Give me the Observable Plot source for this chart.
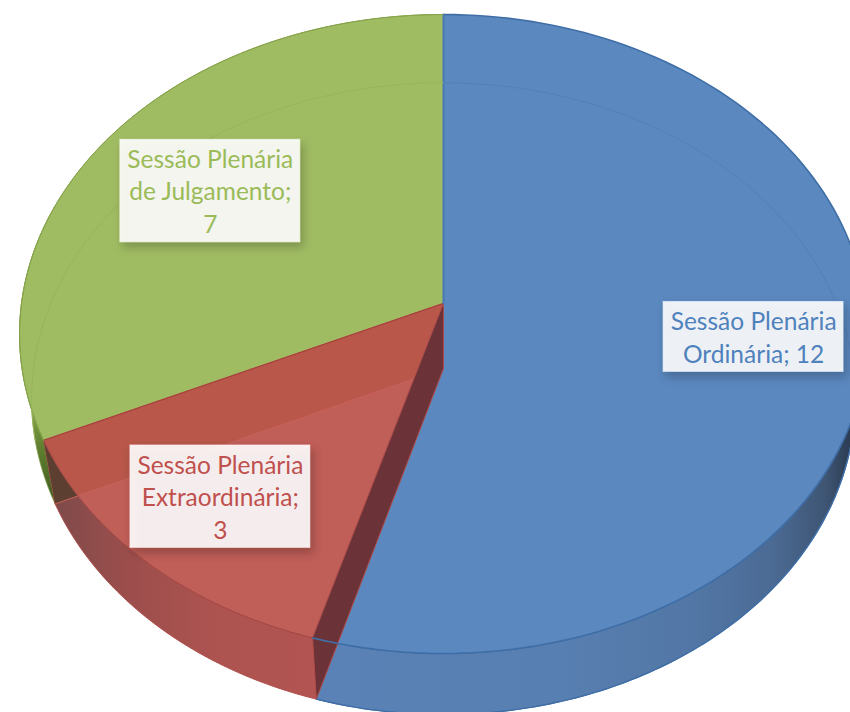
<!DOCTYPE html>
<html>
<head>
<meta charset="utf-8">
<script src="https://cdn.jsdelivr.net/npm/d3@7"></script>
<script src="https://cdn.jsdelivr.net/npm/@observablehq/plot@0.6"></script>
<style>
html,body{margin:0;padding:0;background:#fff;overflow:hidden;width:850px;height:712px}
svg{display:block}
g[aria-label="rect"] rect{filter:drop-shadow(3px 5px 5px rgba(0,0,0,.24))}
</style>
</head>
<body>
<script>
const categories = ["Sessão Plenária Ordinária", "Sessão Plenária Extraordinária", "Sessão Plenária de Julgamento"];
const values = [12, 3, 7];
const labelLines = ["Sessão Plenária\nOrdinária; 12", "Sessão Plenária\nExtraordinária;\n3", "Sessão Plenária\nde Julgamento;\n7"];
const topColors = ["#5b88bf", "#c05e58", "#a0bc63"];
const textColors = ["#4f81bd", "#c0504d", "#9bbb59"];

// perspective disc: top face and bottom face
const P = 0.0955;
const topFace = {cx: 443, cy: 303, R: 422, K: 316.6};
const botFace = {cx: 443, cy: 368, R: 410, K: 313};
const pt = (face, t, f = 1) => {
  const s = 1 / (1 + P * f * Math.cos(t));
  return {x: face.cx + face.R * f * Math.sin(t) * s, y: face.cy - face.K * f * Math.cos(t) * s};
};
const arc = (face, a, b, n = 120) => d3.range(n + 1).map(i => pt(face, a + (b - a) * i / n));

const total = d3.sum(values);
let acc = 0;
const slices = values.map((v, i) => {
  const a = acc / total * 2 * Math.PI; acc += v;
  return {i, a, b: acc / total * 2 * Math.PI, mid: (a + acc / total * 2 * Math.PI) / 2};
});
const [blue, red, green] = slices;

const poly = (points, o) => Plot.line(points, {x: "x", y: "y", curve: "linear-closed", ...o});
const path = (points, o) => Plot.line(points, {x: "x", y: "y", curve: "linear", fill: "none", ...o});

const C = pt(topFace, 0, 0), D = pt(botFace, 0, 0);
const wedge = (face, s) => [pt(face, 0, 0), ...arc(face, s.a, s.b)];
const wall = (a, b) => [...arc(topFace, a, b), ...arc(botFace, b, a)];

// part of the red top that lies over the green bottom wedge
const E = pt(botFace, red.b);
const side = p => (E.x - D.x) * (p.y - D.y) - (E.y - D.y) * (p.x - D.x);
const redArcUpper = arc(topFace, red.b, red.a, 400).filter(p => side(p) > 0);
const redOverGreen = [C, ...redArcUpper, D];
const A = pt(topFace, red.b);
const darkCorner = [A, ...redArcUpper, E];

const labelRadius = [0.735, 0.763, 0.68];
const lineHeight = 32.5;
const boxW = 181;
const labels = slices.map((s, i) => {
  const c = pt(topFace, s.mid, labelRadius[i]);
  const n = labelLines[i].split("\n").length;
  const h = n * lineHeight + 6;
  return {x: c.x, y: c.y - 1, x1: c.x - boxW / 2, x2: c.x + boxW / 2, y1: c.y - h / 2, y2: c.y + h / 2,
          text: labelLines[i], color: textColors[i], edge: textColors[i], name: categories[i]};
});

const grad = (id, x1, y1, x2, y2, stops) => {
  const g = d3.create("svg:linearGradient").attr("id", id).attr("gradientUnits", "userSpaceOnUse")
    .attr("x1", x1).attr("y1", y1).attr("x2", x2).attr("y2", y2);
  stops.forEach(([o, c]) => g.append("stop").attr("offset", o).attr("stop-color", c));
  return g.node();
};
const defs = () => {
  const d = d3.create("svg:defs");
  d.node().append(
    grad("wallBlue", 320, 0, 852, 0, [[0, "#5a82b6"], [0.45, "#587fb1"], [0.7, "#5277a6"], [0.85, "#4b6a94"], [0.95, "#3e5573"], [1, "#2a3a50"]]),
    grad("wallRed", 45, 0, 320, 0, [[0, "#7b4a4a"], [0.3, "#9c4e4c"], [0.6, "#ac5350"], [1, "#b35552"]]),
    grad("wallGreen", 0, 400, 0, 505, [[0, "#8eab52"], [0.45, "#60802f"], [1, "#3f5622"]])
  );
  return d.node();
};

const chart = Plot.plot({
  width: 850, height: 712,
  margin: 0,
  style: {background: "#fff", fontFamily: "Lato, sans-serif"},
  x: {domain: [0, 850], axis: null},
  y: {domain: [712, 0], axis: null},
  marks: [
    defs,
    // outer walls
    poly(wall(green.a, green.a + 0.75), {fill: "url(#wallGreen)", stroke: "#7f9c48", strokeWidth: 0.8}),
    poly(wall(Math.PI * 0.52, blue.b), {fill: "url(#wallBlue)", stroke: "#4271a8", strokeWidth: 1.2}),
    poly(wall(red.a, red.b), {fill: "url(#wallRed)", stroke: "#b04c48", strokeWidth: 1}),
    poly(darkCorner, {fill: "#5c3f30", stroke: "none"}),
    // top faces
    poly(wedge(topFace, green), {fill: topColors[2], stroke: "#8aa84e", strokeWidth: 1}),
    poly(wedge(topFace, red), {fill: topColors[1], stroke: "#b54d49", strokeWidth: 1}),
    poly(redOverGreen, {fill: "#b8574a", stroke: "none"}),
    path([D, E], {stroke: "#c9625c", strokeWidth: 1}),
    path([C, A], {stroke: "#a8403c", strokeWidth: 1}),
    path(arc(topFace, red.a, red.b), {stroke: "#a04a47", strokeWidth: 1}),
    poly(wedge(topFace, blue), {fill: topColors[0], stroke: "none"}),
    // inner wall between red and blue
    poly([C, D, pt(botFace, red.a), pt(topFace, red.a)], {fill: "#6b3237", stroke: "#b04a46", strokeWidth: 1}),
    // edges
    path([pt(topFace, 0), C], {stroke: "#4a78b3", strokeWidth: 2}),
    path(arc(topFace, 0, blue.b), {stroke: "#3f6ea6", strokeWidth: 1.6}),
    path(arc(botFace, Math.PI * 0.52, blue.b), {stroke: "#3f6ea6", strokeWidth: 1.2}),
    path(arc(topFace, green.a, green.b), {stroke: "#86a34a", strokeWidth: 1}),
    // far edge of the bottom face, seen through the top
    path(arc(botFace, green.a + 0.2, green.b), {stroke: "#97b55a", strokeWidth: 1}),
    path(arc(botFace, 0, Math.PI * 0.52), {stroke: "#5480b8", strokeWidth: 1}),
    // labels
    Plot.rect(labels, {x1: "x1", x2: "x2", y1: "y1", y2: "y2", fill: "#fff", fillOpacity: 0.9, stroke: "edge", strokeOpacity: 0.35}),
    Plot.text(labels, {x: "x", y: "y", text: "text", fill: "color", fontSize: 24.5, lineHeight: 1.33, fontFamily: "Lato, sans-serif", textAnchor: "middle", title: "name"})
  ],
  color: {type: "identity"}
});
document.body.append(chart);
</script>
</body>
</html>
